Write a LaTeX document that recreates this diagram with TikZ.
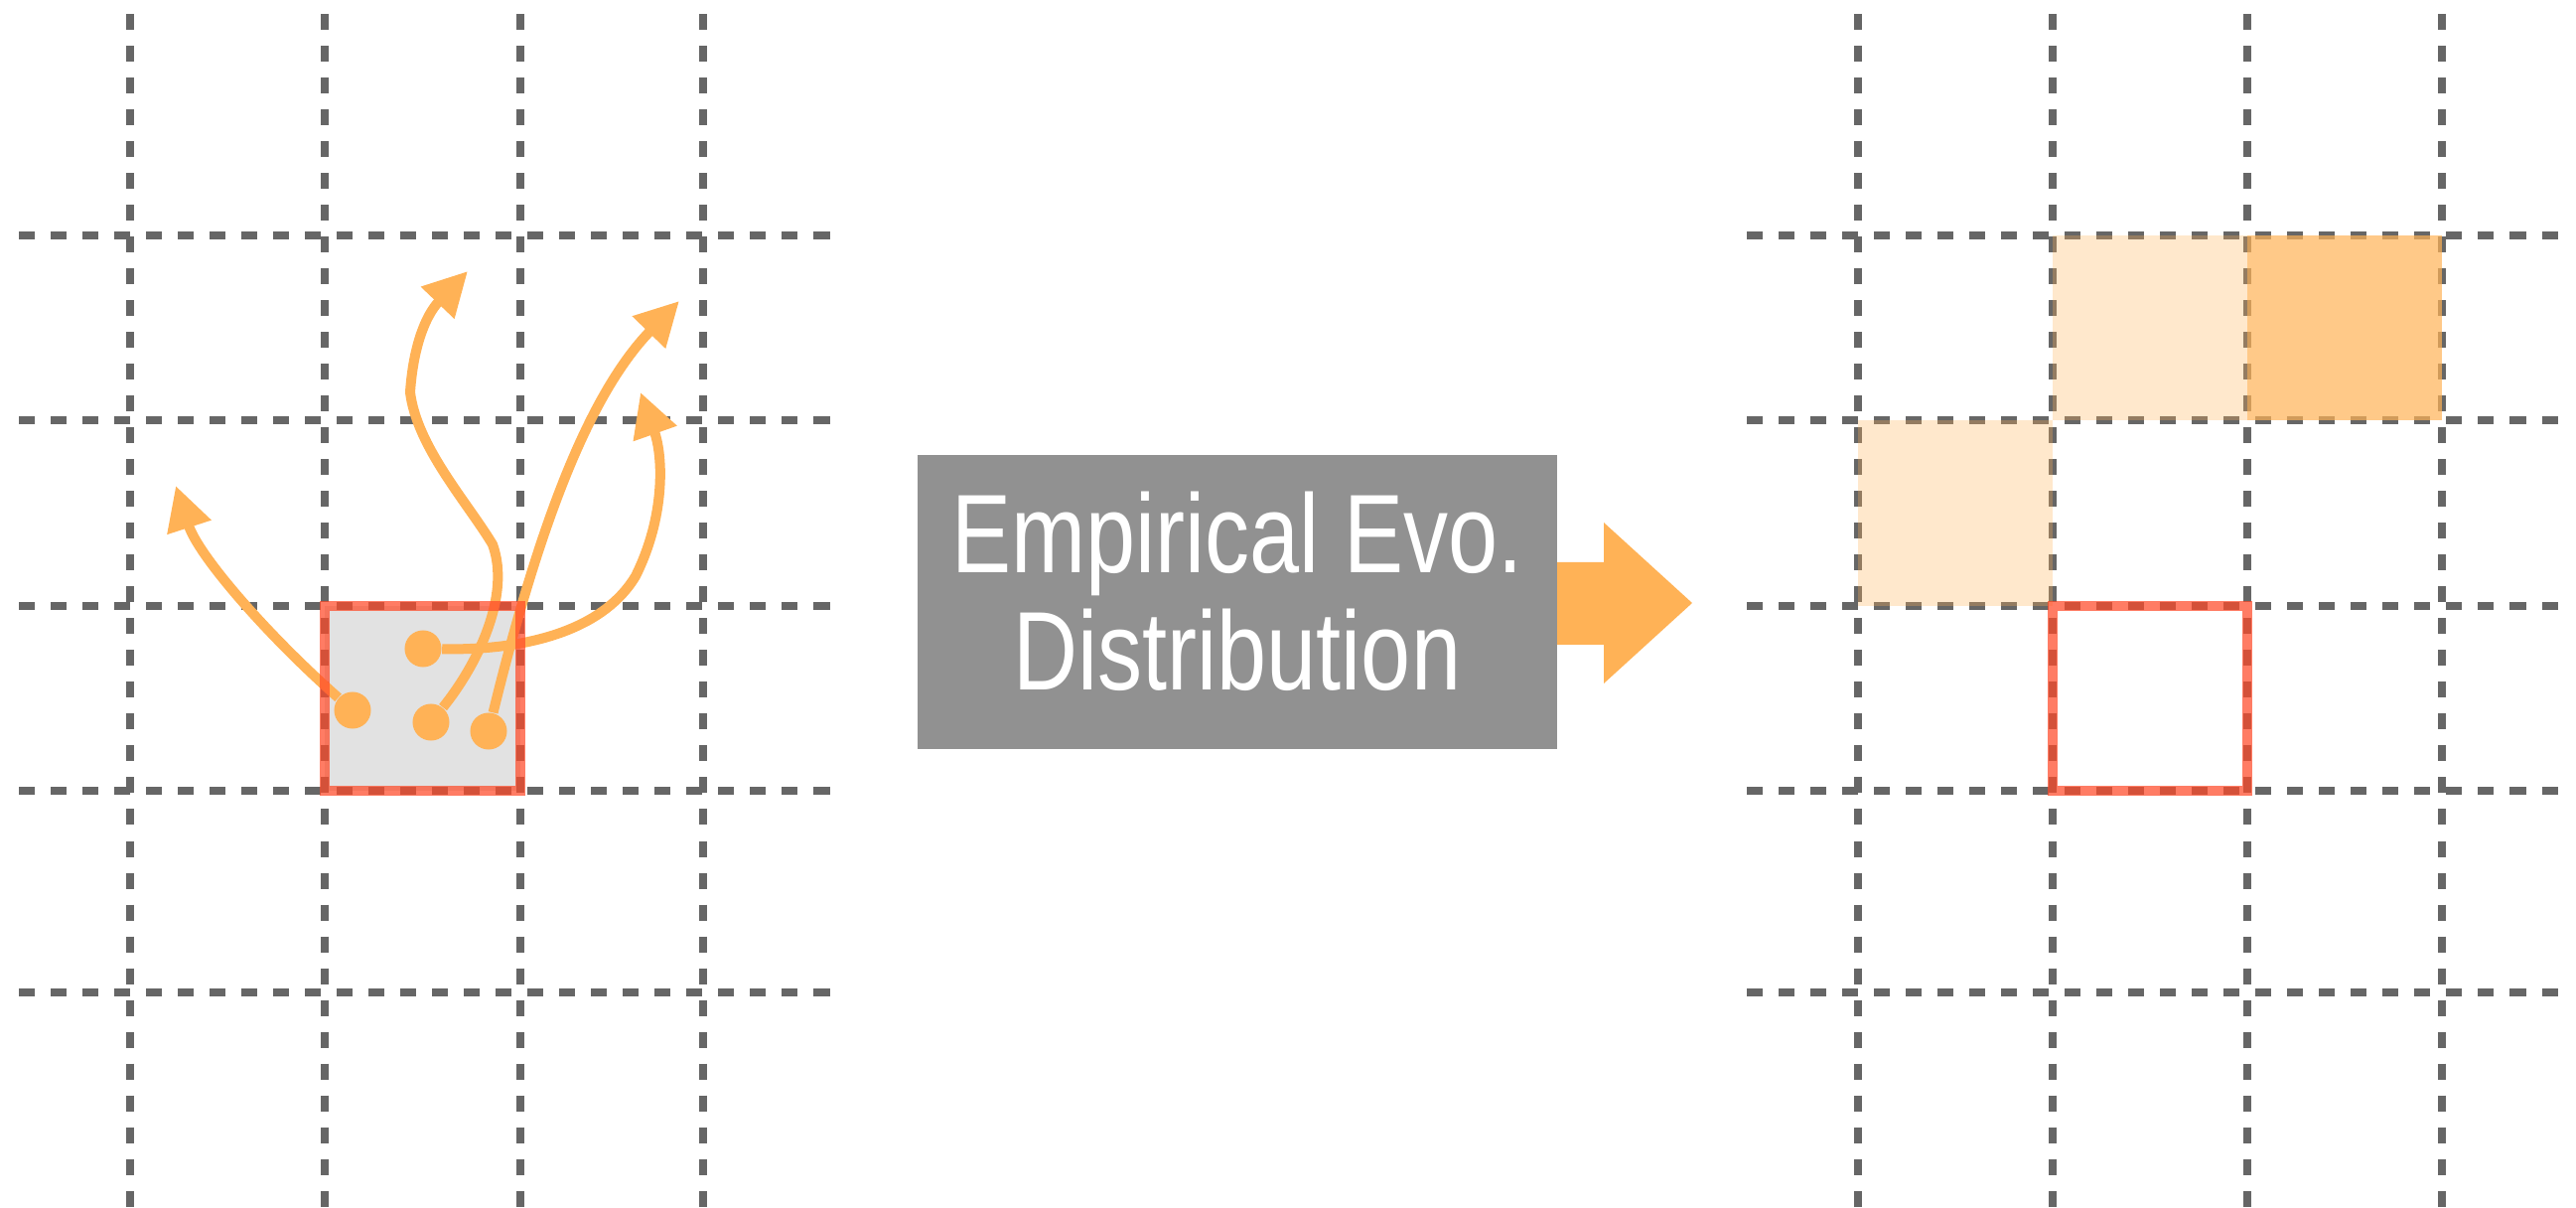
\documentclass[tikz,border=0pt]{standalone}
\usepackage{xcolor}
\usepackage{fontspec}
\usepackage{tikz}
\usetikzlibrary{arrows.meta}
\newfontfamily\boxfont{Liberation Sans}[FakeStretch=0.8]
\definecolor{gridgray}{HTML}{666666}
\definecolor{trajorange}{HTML}{FFB256}
\definecolor{boxgray}{HTML}{919191}
\definecolor{cellgray}{HTML}{E2E2E2}
\definecolor{hotred}{HTML}{FF4A28}

\begin{document}
\begin{tikzpicture}[x=0.01cm,y=-0.01cm]
\tikzset{
    gridline/.style = {draw=gridgray, line width=0.08cm, dash pattern=on 0.16cm off 0.16cm},
    hotcell/.style = {draw=hotred, draw opacity=0.72, line width=0.1cm},
    probcell/.style = {fill=trajorange, fill opacity=#1},
    dot/.style = {circle, fill=trajorange, minimum size=0.37cm, inner sep=0pt},
    trajline/.style = {draw=trajorange, line width=0.1cm, -{Triangle[length=0.44cm,width=0.44cm]}},
    evobox/.style = {rectangle, fill=boxgray, text=white, align=center, inner sep=0pt, text depth=0.22cm,
        minimum width=6.43cm, minimum height=2.95cm, font=\boxfont\fontsize{32pt}{33.6pt}\selectfont}
}
\useasboundingbox (0,0) rectangle (2594,1216);
\fill[cellgray] (327,610) rectangle (524,796);
\draw[gridline] (131,14) -- (131,1216);
\draw[gridline] (327,14) -- (327,1216);
\draw[gridline] (524,14) -- (524,1216);
\draw[gridline] (708,14) -- (708,1216);
\draw[gridline] (19,237) -- (840,237);
\draw[gridline] (19,423) -- (840,423);
\draw[gridline] (19,610) -- (840,610);
\draw[gridline] (19,796) -- (840,796);
\draw[gridline] (19,999) -- (840,999);
\draw[gridline] (1871,14) -- (1871,1216);
\draw[gridline] (2067,14) -- (2067,1216);
\draw[gridline] (2263,14) -- (2263,1216);
\draw[gridline] (2459,14) -- (2459,1216);
\draw[gridline] (1759,237) -- (2586,237);
\draw[gridline] (1759,423) -- (2586,423);
\draw[gridline] (1759,610) -- (2586,610);
\draw[gridline] (1759,796) -- (2586,796);
\draw[gridline] (1759,999) -- (2586,999);
\fill[probcell=0.3] (2067,237) rectangle (2263,423);
\fill[probcell=0.7] (2263,237) rectangle (2459,423);
\fill[probcell=0.3] (1871,423) rectangle (2067,610);
\node[dot] (p1) at (355,715) {};
\node[dot] (p2) at (426,653) {};
\node[dot] (p3) at (434,727) {};
\node[dot] (p4) at (492,736) {};
\coordinate (t1) at (177,489);
\coordinate (t2) at (471,273);
\coordinate (t3) at (684,303);
\coordinate (t4) at (645,395);
\draw[trajline] (p1) .. controls (270,640) and (200,560) .. (t1);
\draw[trajline] (p3) .. controls (480,670) and (515,600) .. (496,548)
    .. controls (470,505) and (420,450) .. (413,395)
    .. controls (416,350) and (428,318) .. (t2);
\draw[trajline] (p4) .. controls (540,540) and (590,400) .. (t3);
\draw[trajline] (p2) .. controls (540,655) and (610,630) .. (640,580)
    .. controls (670,520) and (668,460) .. (t4);
\draw[hotcell] (327,610) rectangle (524,796);
\draw[hotcell] (2067,610) rectangle (2263,796);
\fill[trajorange] (1540,566) -- (1615,566) -- (1615,526) -- (1704,607) -- (1615,688) -- (1615,649) -- (1540,649) -- cycle;
\node[evobox] (evo) at (1246,606) {Empirical Evo.\\Distribution};
\end{tikzpicture}
\end{document}
